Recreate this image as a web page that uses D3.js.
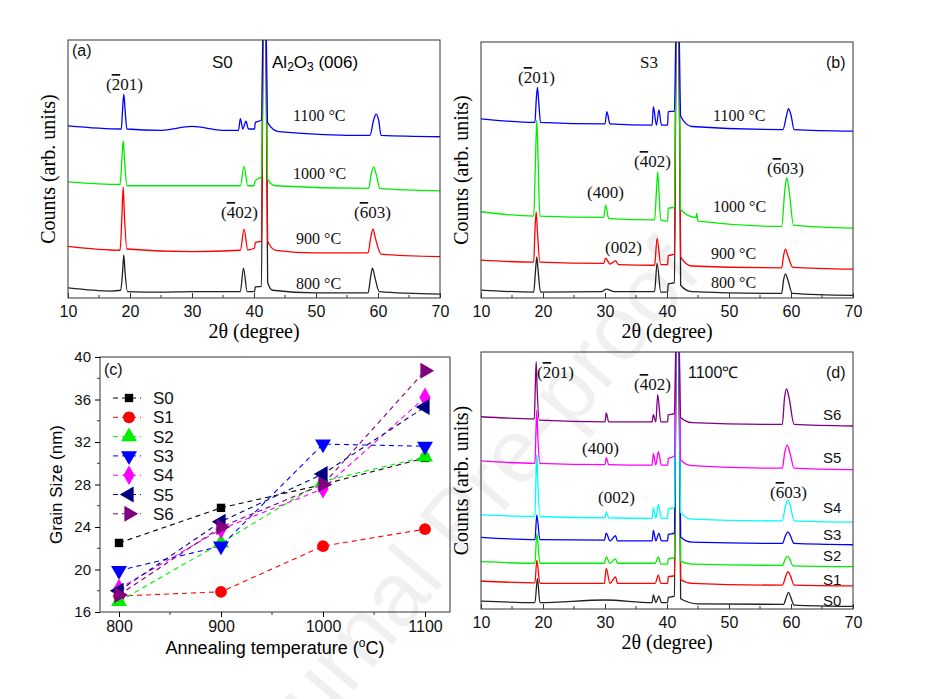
<!DOCTYPE html>
<html><head><meta charset="utf-8">
<script src="https://cdn.jsdelivr.net/npm/d3@7"></script>
<style>body{margin:0;background:#fff}svg{display:block}</style>
</head><body>
<script>
// ---------- DATA ----------
// Panel (a) S0, XRD scans (2θ, arb. intensity)
const a800=[[10,3.9],[17,2.7],[18.5,3],[18.8,10],[19,16.7],[19.2,10],[19.6,2.5],[25,2.3],[30,2.5],[37.8,2.5],[38.3,11.6],[38.9,2.5],[40.1,2.5],[40.2,4.3],[41.2,4.5],[41.5,110],[41.9,110],[42.2,6],[43,3],[50,2],[58.4,2],[58.8,8],[59.1,11.6],[59.5,8],[60.2,2.5],[70,1.5]];
const a900=[[10,20],[18.4,18.5],[18.7,32],[18.9,43],[19.1,32],[19.5,19],[30,18],[37.8,18.5],[38.4,26.7],[39,18.6],[40.1,19.4],[40.2,21.5],[41.2,22],[41.5,110],[41.9,110],[42.2,22],[43.5,18.5],[50,17.5],[58.4,17.5],[58.8,23],[59.2,26.7],[59.6,23],[60.5,17],[70,16]];
const a1000=[[10,45],[18.4,44],[18.7,54],[18.9,61],[19.1,54],[19.5,43.5],[30,43.5],[37.8,43.5],[38.4,51],[39,43.5],[40,43.5],[40.2,45.5],[41.2,47],[41.5,110],[41.9,110],[42.2,46],[43.5,43.5],[58.5,42.5],[58.9,48],[59.3,50.8],[59.7,48],[60.3,42.5],[70,41.5]];
const a1100=[[10,66.7],[18.6,65.5],[18.8,73],[19,79],[19.2,73],[19.5,65.5],[25,65],[30,66.5],[35,65],[37.5,65],[37.8,69.5],[38.2,65.5],[38.7,68.5],[39.1,65.5],[40.1,65.5],[40.2,68],[41.2,69],[41.5,110],[41.9,110],[42.2,68],[44,64.5],[58.7,63],[59.3,69],[59.7,71.3],[60.1,69],[60.5,63],[70,62.5]];
// Panel (b) S3
const b800=[[10,3.1],[18.5,2.3],[18.8,11],[19,16.1],[19.2,11],[19.6,2.3],[29.5,2.5],[30.2,3.5],[31.5,2.5],[38,2.5],[38.4,13.6],[39,2.3],[40.1,2.3],[40.2,5.5],[41.2,6],[41.5,110],[41.9,110],[42.2,5],[44,2.5],[58.5,1.8],[58.8,7],[59.1,9.4],[59.5,7],[60.2,1.8],[70,1]];
const b900=[[10,14.8],[18.5,14],[18.7,26],[18.9,33.7],[19.1,26],[19.5,14],[29.8,13.5],[30.1,15.6],[30.8,13.2],[31.7,14.5],[32.2,13],[38,12.8],[38.4,23.4],[39,13],[40.1,13],[40.2,16.6],[41.2,17],[41.5,110],[41.9,110],[42.2,16],[44,12.5],[58.5,11.8],[58.8,16.5],[59.1,19.1],[59.5,16.5],[60.3,12],[70,11.3]];
const b1000=[[10,33.7],[18.5,32],[18.8,55],[19,69.5],[19.2,55],[19.5,32],[29.8,31.5],[30.1,36.3],[30.6,31],[38,30.5],[38.3,42],[38.5,49.3],[38.7,42],[39,30.5],[40.1,30],[40.2,35],[41.2,35.5],[41.5,110],[41.9,110],[42.2,34.5],[44.7,31.5],[44.8,33],[45,30],[58.5,28],[59,42],[59.3,46.9],[59.7,42],[60.4,28.5],[70,27.3]];
const b1100=[[10,70],[18.7,68.6],[18.9,77],[19.1,82.3],[19.3,77],[19.6,68.6],[30,68],[30.3,72.8],[30.8,68],[37.6,67.5],[37.8,74.7],[38.3,67.5],[38.7,73.5],[39.1,67.5],[40.1,67.5],[40.2,72.8],[41.2,73],[41.5,110],[41.9,110],[42.2,71],[44,67],[58.7,65.8],[59.3,71.5],[59.6,74],[60,71.5],[60.5,65.8],[70,65.2]];
// Panel (c) grain size
const temps=[800,900,1000,1100];
const samples=["S0","S1","S2","S3","S4","S5","S6"];
const grainS0=[22.5,25.8,28.0,30.5];
const grainS1=[17.5,17.9,22.2,23.8];
const grainS2=[17.0,22.5,28.3,30.6];
const grainS3=[19.9,22.2,31.8,31.6];
const grainS4=[18.2,23.8,27.6,36.2];
const grainS5=[18.0,24.5,29.0,35.3];
const grainS6=[17.6,24.0,28.0,38.7];
// Panel (d) 1100 °C, S0..S6
const dS0=[[10,3.1],[18.7,2.5],[19.1,11.9],[19.5,2.5],[30,3.5],[37.6,2.5],[37.8,5.5],[38.2,2.5],[38.7,5],[39.1,2.5],[40.1,2.5],[40.2,4.5],[41.2,5],[41.5,110],[41.9,110],[42.2,4],[45,2],[58.8,1.8],[59.3,5],[59.6,6.5],[59.9,5],[60.5,1.5],[70,1]];
const dS1=[[10,10.9],[18.7,10.2],[19,19],[19.5,10],[29.9,10],[30.2,15.8],[30.8,10],[31.7,12.5],[32,10],[38.1,10],[38.6,13.2],[39,10],[40.1,10],[40.2,12.5],[41.2,13],[41.5,110],[41.9,110],[42.2,11.5],[44,10],[58.6,9.3],[59.2,13],[59.5,14.5],[59.9,13],[60.5,9.3],[70,9]];
const dS2=[[10,18.4],[18.7,17.8],[19,29.4],[19.5,17.8],[29.9,17.8],[30.2,20.3],[30.8,17.8],[31.7,19.5],[32,17.8],[38.1,17.8],[38.6,20.3],[39,17.5],[40.1,17.5],[40.2,19.5],[41.2,20],[41.5,110],[41.9,110],[42.2,18.5],[44,17.5],[58.6,17],[59.1,19.5],[59.4,20.5],[59.8,19.5],[60.3,16.8],[70,16.5]];
const dS3=[[10,27.9],[18.7,27],[19,36.6],[19.5,27],[29.9,26.8],[30.2,29.5],[30.8,26.5],[31.7,28.5],[32,26.5],[37.6,26.5],[37.8,30.6],[38.2,26.5],[38.7,29.4],[39.1,26.5],[40.1,26.5],[40.2,29],[41.2,29.5],[41.5,110],[41.9,110],[42.2,28],[44,26],[58.6,25.5],[59.1,28.5],[59.5,30],[59.9,28.5],[60.5,25.5],[70,25]];
const dS4=[[10,36.6],[18.7,36],[18.85,50],[19,60],[19.15,50],[19.5,36],[30,35.5],[30.2,37.8],[30.6,35.5],[37.6,35.3],[37.8,39.4],[38.2,35.3],[38.6,40.7],[39.1,35.3],[40.1,35.3],[40.2,38.9],[41.2,39.5],[41.5,110],[41.9,110],[42.2,37.5],[44,35],[58.6,34.3],[59.1,40],[59.5,42.4],[59.9,40],[60.5,34.3],[70,33.8]];
const dS5=[[10,57.6],[18.7,56.7],[18.85,68],[19,77.4],[19.15,68],[19.5,56.7],[30,56.2],[30.2,58.9],[30.6,56.2],[37.6,56],[37.8,60.4],[38.2,56],[38.6,61.2],[39.1,56],[40.1,56],[40.2,58.5],[41.2,59.5],[41.5,110],[41.9,110],[42.2,58],[44,55.8],[58.6,54.8],[59,61],[59.4,63.8],[59.8,61],[60.5,54.8],[70,54.2]];
const dS6=[[10,74.8],[18.6,74],[18.75,86],[18.9,96.2],[19.05,86],[19.4,73.5],[30,72.8],[30.2,76.3],[30.6,72.8],[37.6,72.8],[37.8,75.6],[38.2,72.8],[38.5,83.5],[39,72.8],[40.1,72.8],[40.2,75.5],[41.2,76],[41.5,110],[41.9,110],[42.2,74.5],[44,72.5],[58.6,71.8],[58.95,82],[59.3,85.6],[59.7,82],[60.5,71.8],[70,71.2]];
const xTicks=[10,20,30,40,50,60,70];
const gTicks=[16,20,24,28,32,36,40];

// ---------- DRAW ----------
const svg=d3.select("body").append("svg").attr("width",939).attr("height",699);
const SERIF="'Liberation Serif','Times New Roman',serif", SANS="'Liberation Sans',Arial,sans-serif";
const defs=svg.append("defs");
let clipN=0;

function xrdPanel(box,curves){
  const x=d3.scaleLinear().domain([10,70]).range([box.l,box.r]);
  const y=d3.scaleLinear().domain([0,100]).range([box.b,box.t]);
  const id="clip"+(clipN++);
  defs.append("clipPath").attr("id",id).append("rect").attr("x",box.l).attr("y",box.t).attr("width",box.r-box.l).attr("height",box.b-box.t);
  const line=d3.line().x(d=>x(d[0])).y(d=>y(d[1])).curve(d3.curveMonotoneX);
  const g=svg.append("g").attr("clip-path",`url(#${id})`);
  curves.forEach(c=>g.append("path").attr("d",line(c.data)).attr("fill","none").attr("stroke",c.color).attr("stroke-width",1.3));
  svg.append("rect").attr("x",box.l).attr("y",box.t).attr("width",box.r-box.l).attr("height",box.b-box.t).attr("fill","none").attr("stroke","#333").attr("stroke-width",1);
  const ax=svg.append("g").attr("transform",`translate(0,${box.b})`).call(d3.axisBottom(x).tickValues(xTicks).tickSize(-5).tickPadding(8).tickFormat(d3.format("d")));
  ax.select(".domain").remove();
  ax.selectAll("text").attr("font-family",SANS).attr("font-size",16).attr("fill","#111");
  ax.selectAll("line").attr("stroke","#333");
  svg.append("g").selectAll("line").data(d3.range(15,70,10)).join("line").attr("x1",d=>x(d)).attr("x2",d=>x(d)).attr("y1",box.b).attr("y2",box.b-3).attr("stroke","#333");
  svg.append("text").attr("x",(box.l+box.r)/2).attr("y",box.b+40).attr("text-anchor","middle").attr("font-family",SERIF).attr("font-size",20).text("2θ (degree)");
  svg.append("text").attr("transform",`translate(${box.l-13},${(box.t+box.b)/2}) rotate(-90)`).attr("text-anchor","middle").attr("font-family",SERIF).attr("font-size",20).text("Counts (arb. units)");
}
function txt(x,y,s,o={}){
  return svg.append("text").attr("x",x).attr("y",y).attr("font-family",o.f||SERIF).attr("font-size",o.s||16).attr("text-anchor",o.a||"start").attr("fill","#111").text(s);
}
function hkl(x,y,bar,rest){
  const t=svg.append("text").attr("x",x).attr("y",y).attr("font-family",SERIF).attr("font-size",17).attr("fill","#111");
  t.append("tspan").text("(");
  t.append("tspan").attr("text-decoration","overline").text(bar);
  t.append("tspan").text(rest);
}

// (a)
xrdPanel({l:68,r:440,t:40,b:298},[{data:a800,color:"#222"},{data:a900,color:"#f00"},{data:a1000,color:"#0e0"},{data:a1100,color:"#00f"}]);
txt(72,56,"(a)",{f:SANS,s:16});
txt(212,68,"S0",{f:SANS,s:17});
{const t=svg.append("text").attr("x",272).attr("y",68).attr("font-family",SANS).attr("font-size",17);
 t.append("tspan").text("Al");t.append("tspan").attr("font-size",12).attr("dy",3).text("2");
 t.append("tspan").attr("dy",-3).text("O");t.append("tspan").attr("font-size",12).attr("dy",3).text("3");
 t.append("tspan").attr("dy",-3).text(" (006)");}
hkl(106,90,"2","01)");
txt(293,121,"1100 °C");txt(293,179,"1000 °C");txt(296,244,"900 °C");txt(296,289,"800 °C");
hkl(221,218,"4","02)");hkl(354,218,"6","03)");

// (b)
xrdPanel({l:481,r:853,t:42,b:298},[{data:b800,color:"#222"},{data:b900,color:"#f00"},{data:b1000,color:"#0e0"},{data:b1100,color:"#00f"}]);
txt(640,68,"S3",{f:SERIF,s:17});txt(826,68,"(b)",{f:SANS,s:16});
hkl(518,83,"2","01)");txt(713,121,"1100 °C");
hkl(634,167,"4","02)");hkl(767,174,"6","03)");
txt(587,198,"(400)",{s:17});txt(713,212,"1000 °C");
txt(605,253,"(002)",{s:17});txt(711,259,"900 °C");txt(711,288,"800 °C");

// (d)
xrdPanel({l:481,r:853,t:352,b:609},[{data:dS0,color:"#222"},{data:dS1,color:"#f00"},{data:dS2,color:"#0e0"},{data:dS3,color:"#00f"},{data:dS4,color:"#0ff"},{data:dS5,color:"#f0f"},{data:dS6,color:"#800080"}]);
hkl(537,378,"2","01)");hkl(634,390,"4","02)");
txt(688,378,"1100℃",{f:SANS,s:16});txt(826,378,"(d)",{f:SANS,s:16});
txt(823,420,"S6",{f:SANS,s:15});txt(582,454,"(400)",{s:17});txt(823,463,"S5",{f:SANS,s:15});
txt(598,503,"(002)",{s:17});hkl(770,498,"6","03)");txt(823,513,"S4",{f:SANS,s:15});
txt(823,540,"S3",{f:SANS,s:15});txt(823,561,"S2",{f:SANS,s:15});txt(823,585,"S1",{f:SANS,s:15});txt(823,606,"S0",{f:SANS,s:15});

// (c)
{
 const box={l:100,r:450,t:357,b:612};
 const x=d3.scaleLinear().domain([800,1100]).range([119,425]);
 const y=d3.scaleLinear().domain([16,40]).range([box.b,box.t]);
 svg.append("rect").attr("x",box.l).attr("y",box.t).attr("width",box.r-box.l).attr("height",box.b-box.t).attr("fill","none").attr("stroke","#333");
 const ax=svg.append("g").attr("transform",`translate(0,${box.b})`).call(d3.axisBottom(x).tickValues(temps).tickSize(5).tickPadding(4).tickFormat(d3.format("d")));
 ax.select(".domain").remove();
 ax.selectAll("text").attr("font-family",SANS).attr("font-size",16).attr("fill","#111");
 svg.append("g").selectAll("line").data([850,950,1050]).join("line").attr("x1",d=>x(d)).attr("x2",d=>x(d)).attr("y1",box.b).attr("y2",box.b+3).attr("stroke","#333");
 const ay=svg.append("g").attr("transform",`translate(${box.l},0)`).call(d3.axisLeft(y).tickValues(gTicks).tickSize(5).tickPadding(4));
 ay.select(".domain").remove();
 ay.selectAll("text").attr("font-family",SANS).attr("font-size",15).attr("fill","#111");
 svg.append("g").selectAll("line").data([18,22,26,30,34,38]).join("line").attr("x1",box.l).attr("x2",box.l-3).attr("y1",d=>y(d)).attr("y2",d=>y(d)).attr("stroke","#333");
 svg.append("text").attr("transform",`translate(62,${(box.t+box.b)/2}) rotate(-90)`).attr("text-anchor","middle").attr("font-family",SANS).attr("font-size",17).text("Grain Size (nm)");
 const xt=svg.append("text").attr("x",275).attr("y",654).attr("text-anchor","middle").attr("font-family",SANS).attr("font-size",18).text("Annealing temperature (");
 xt.append("tspan").attr("font-size",12).attr("dy",-7).text("o");xt.append("tspan").attr("dy",7).text("C)");
 txt(104,375,"(c)",{f:SANS,s:16});
 const series=[grainS0,grainS1,grainS2,grainS3,grainS4,grainS5,grainS6];
 const colors=["#000","#f00","#0e0","#00f","#f0f","#000080","#800080"];
 const syms=[d3.symbolSquare,d3.symbolCircle,d3.symbolTriangle,d3.symbolTriangle,d3.symbolDiamond,d3.symbolTriangle,d3.symbolTriangle];
 const rots=[0,0,0,180,0,-90,90];
 const sizes=[70,110,110,110,110,110,110];
 const line=d3.line().x((d,i)=>x(temps[i])).y(d=>y(d));
 series.forEach((s,k)=>{
  svg.append("path").attr("d",line(s)).attr("fill","none").attr("stroke",colors[k]).attr("stroke-width",1.1).attr("stroke-dasharray","5,4");
 });
 series.forEach((s,k)=>{
  svg.append("g").selectAll("path").data(s).join("path").attr("d",d3.symbol(syms[k],sizes[k])).attr("transform",(d,i)=>`translate(${x(temps[i])},${y(d)}) rotate(${rots[k]})`).attr("fill",colors[k]);
 });
 samples.forEach((nm,k)=>{
  const ly=398+k*19.3;
  svg.append("line").attr("x1",113).attr("x2",141).attr("y1",ly).attr("y2",ly).attr("stroke",colors[k]).attr("stroke-dasharray","5,4");
  svg.append("path").attr("d",d3.symbol(syms[k],sizes[k])()).attr("transform",`translate(129,${ly}) rotate(${rots[k]})`).attr("fill",colors[k]);
  txt(153,ly+6,nm,{f:SANS,s:17});
 });
}
// watermark
svg.append("text").attr("transform","translate(480,540) rotate(-50)").attr("text-anchor","middle").attr("font-family",SANS).attr("font-size",90).attr("fill","#000").attr("fill-opacity",0.06).text("Journal Pre-proof");
</script>
</body></html>
